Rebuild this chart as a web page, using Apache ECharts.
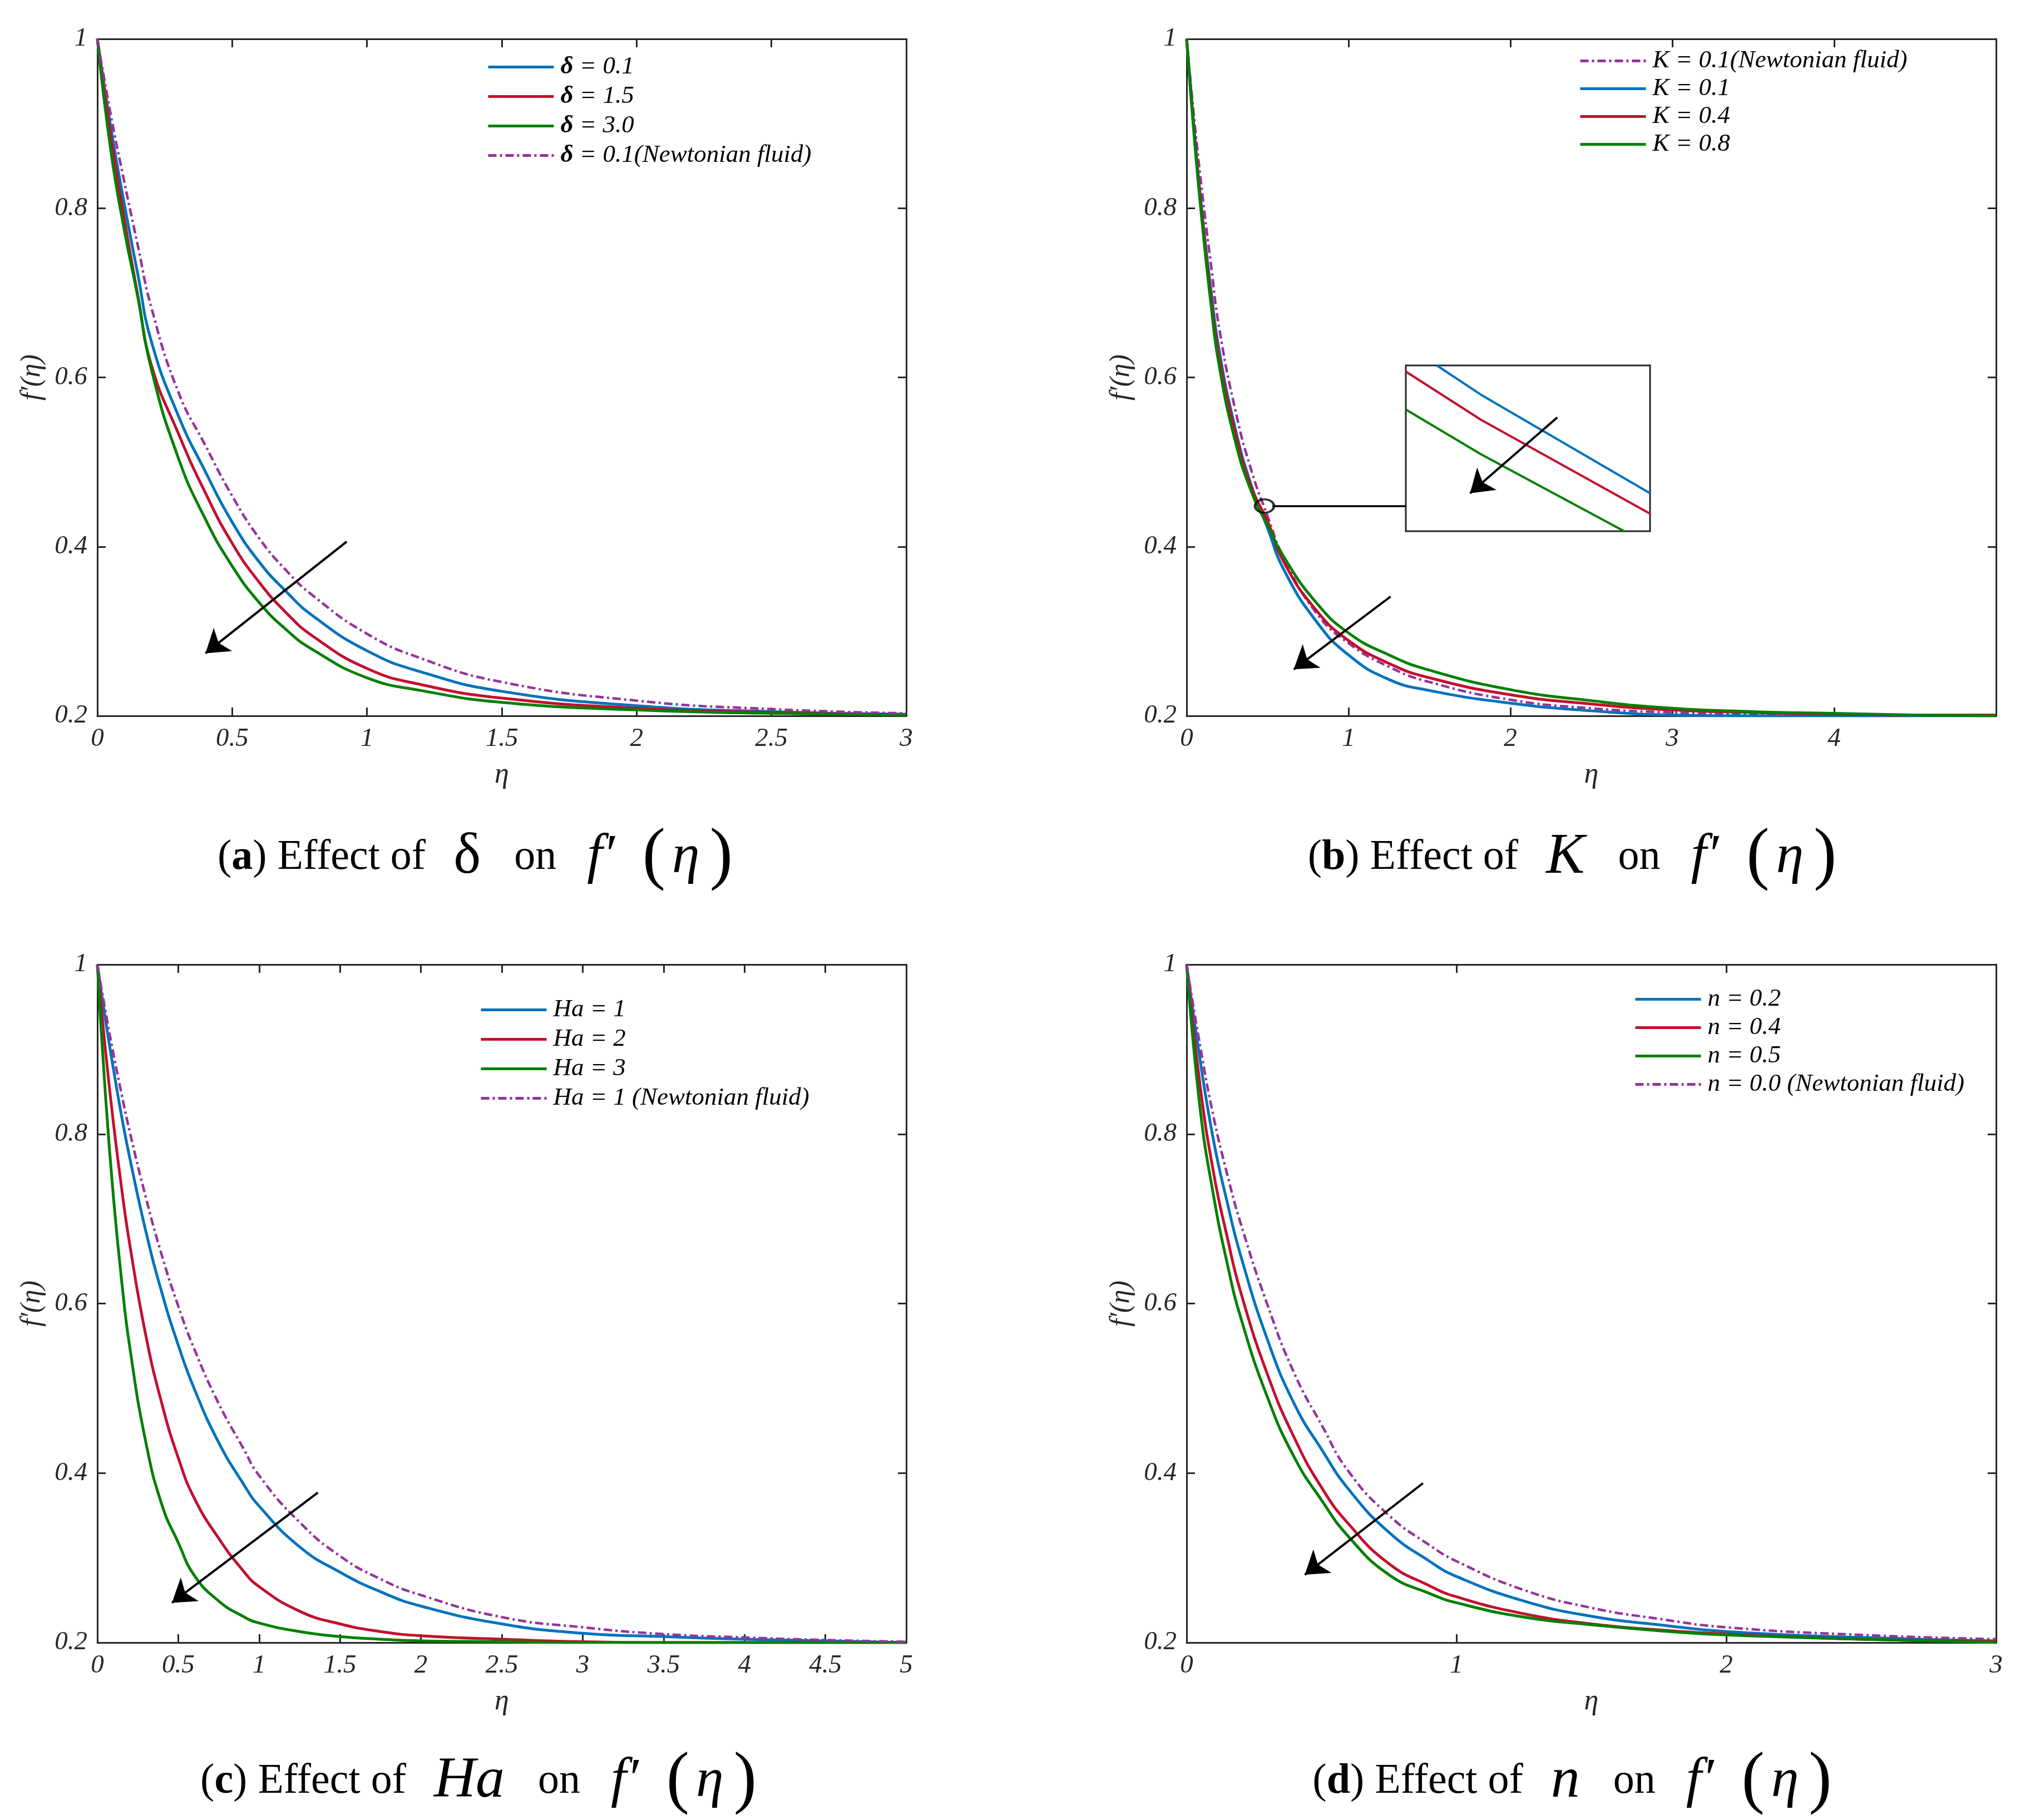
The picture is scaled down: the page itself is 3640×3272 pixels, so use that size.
<!DOCTYPE html>
<html>
<head>
<meta charset="utf-8">
<title>Effect of parameters on f'(eta)</title>
<script src="https://cdn.jsdelivr.net/npm/echarts@6/dist/echarts.min.js"></script>
<style>
  html, body { margin: 0; padding: 0; background: #fff; }
  #main { width: 3640px; height: 3272px; }
</style>
</head>
<body>
<div id="main"></div>
<script>
// ---- data ----
// (a) effect of delta
var etaA = [0, 0.05, 0.1, 0.15, 0.2, 0.3, 0.4, 0.5, 0.6, 0.7, 0.8, 1.0, 1.2, 1.5, 2.0, 2.5, 3.0];
var deltaBlue  = [1, 0.895, 0.805, 0.722, 0.643, 0.555, 0.489, 0.429, 0.382, 0.347, 0.318, 0.277, 0.252, 0.229, 0.212, 0.205, 0.202];
var deltaRed   = [1, 0.884, 0.787, 0.697, 0.615, 0.534, 0.464, 0.404, 0.358, 0.322, 0.294, 0.256, 0.237, 0.221, 0.209, 0.204, 0.201];
var deltaGreen = [1, 0.868, 0.774, 0.695, 0.610, 0.505, 0.433, 0.377, 0.334, 0.302, 0.278, 0.245, 0.230, 0.216, 0.207, 0.203, 0.201];
var deltaNewt  = [1, 0.910, 0.831, 0.756, 0.683, 0.583, 0.520, 0.460, 0.410, 0.372, 0.342, 0.297, 0.268, 0.240, 0.218, 0.208, 0.203];

// (b) effect of K
var etaB = [0, 0.05, 0.1, 0.15, 0.2, 0.3, 0.4, 0.5, 0.6, 0.8, 1.0, 1.25, 1.5, 2, 2.5, 3, 3.5, 4, 4.5, 5];
var kNewt  = [1, 0.900, 0.812, 0.734, 0.660, 0.562, 0.490, 0.436, 0.387, 0.322, 0.286, 0.258, 0.240, 0.219, 0.209, 0.204, 0.202, 0.201, 0.200, 0.200];
var kBlue  = [1, 0.885, 0.786, 0.704, 0.633, 0.540, 0.472, 0.422, 0.373, 0.312, 0.272, 0.243, 0.230, 0.215, 0.206, 0.201, 0.200, 0.200, 0.200, 0.200];
var kRed   = [1, 0.882, 0.783, 0.696, 0.625, 0.535, 0.470, 0.430, 0.382, 0.325, 0.289, 0.262, 0.245, 0.225, 0.214, 0.207, 0.204, 0.202, 0.201, 0.201];
var kGreen = [1, 0.877, 0.775, 0.687, 0.615, 0.525, 0.465, 0.425, 0.388, 0.334, 0.298, 0.272, 0.254, 0.231, 0.218, 0.209, 0.205, 0.203, 0.201, 0.200];

// (c) effect of Ha
var etaC = [0, 0.05, 0.1, 0.15, 0.2, 0.3, 0.4, 0.5, 0.6, 0.75, 0.9, 1, 1.25, 1.5, 1.75, 2, 2.5, 3, 3.5, 4, 4.5, 5];
var haBlue  = [1, 0.935, 0.876, 0.821, 0.772, 0.685, 0.612, 0.551, 0.499, 0.436, 0.388, 0.361, 0.313, 0.283, 0.260, 0.243, 0.222, 0.211, 0.207, 0.204, 0.202, 0.200];
var haRed   = [1, 0.899, 0.812, 0.736, 0.670, 0.562, 0.481, 0.418, 0.370, 0.323, 0.285, 0.266, 0.237, 0.222, 0.213, 0.208, 0.204, 0.201, 0.200, 0.200, 0.200, 0.200];
var haGreen = [1, 0.846, 0.724, 0.627, 0.549, 0.436, 0.362, 0.318, 0.279, 0.249, 0.231, 0.223, 0.213, 0.207, 0.204, 0.202, 0.201, 0.200, 0.200, 0.200, 0.200, 0.200];
var haNewt  = [1, 0.945, 0.894, 0.847, 0.803, 0.725, 0.656, 0.597, 0.546, 0.482, 0.430, 0.397, 0.342, 0.302, 0.275, 0.256, 0.230, 0.218, 0.210, 0.206, 0.203, 0.201];

// (d) effect of n
var etaD = [0, 0.05, 0.1, 0.15, 0.2, 0.3, 0.4, 0.5, 0.6, 0.75, 0.9, 1, 1.25, 1.5, 1.75, 2, 2.5, 3];
var nBlue  = [1, 0.887, 0.792, 0.720, 0.657, 0.557, 0.481, 0.428, 0.381, 0.330, 0.296, 0.278, 0.249, 0.231, 0.221, 0.213, 0.206, 0.202];
var nRed   = [1, 0.857, 0.754, 0.679, 0.614, 0.516, 0.441, 0.383, 0.340, 0.293, 0.267, 0.254, 0.234, 0.222, 0.215, 0.210, 0.204, 0.201];
var nGreen = [1, 0.830, 0.727, 0.648, 0.584, 0.489, 0.418, 0.368, 0.325, 0.280, 0.258, 0.247, 0.230, 0.221, 0.214, 0.209, 0.204, 0.200];
var nNewt  = [1, 0.904, 0.820, 0.753, 0.695, 0.598, 0.517, 0.457, 0.402, 0.350, 0.315, 0.296, 0.262, 0.241, 0.228, 0.218, 0.209, 0.204];

// zoomed inset of (b), inset units 0..1
var insetBlue  = [[0.127, 1.0], [0.307, 0.824], [1.0, 0.229]];
var insetRed   = [[0, 0.963], [0.307, 0.673], [1.0, 0.106]];
var insetGreen = [[0, 0.734], [0.307, 0.465], [0.894, 0]];

// annotations (data units of each panel)
var arrowA = [[0.925, 0.406], [0.401, 0.274]];
var arrowB = [[1.26, 0.341], [0.662, 0.255]];
var arrowC = [[1.363, 0.377], [0.461, 0.247]];
var arrowD = [[0.876, 0.388], [0.438, 0.280]];
var arrowInset = [[0.620, 0.686], [0.263, 0.229]];
var circleB = [0.481, 0.448];
var connectorB = [[0.53, 0.448], [1.354, 0.448]];

var yTicks = [0.2, 0.4, 0.6, 0.8, 1];

// ---- styling ----
var FONT = '"Liberation Serif", "Times New Roman", serif';
var AX = '#262626';
var BLUE = '#0072BD', RED = '#C2102F', GREEN = '#008000', PURPLE = '#953399';
var LW = 5;

function pairs(xs, ys) {
  return xs.map(function (x, i) { return [x, ys[i]]; });
}

function curve(name, gi, xs, ys, color, dashed) {
  return {
    name: name, type: 'line', xAxisIndex: gi * 2, yAxisIndex: gi * 2,
    data: pairs(xs, ys), smooth: 0.5,
    showSymbol: false, symbol: 'none', silent: true,
    lineStyle: { color: color, width: dashed ? LW - 0.5 : LW, type: dashed ? [15, 6, 4, 6] : 'solid' },
    itemStyle: { color: color }
  };
}

function arrow(gi, pts, xi) {
  var idx = xi === undefined ? gi * 2 : xi;
  return {
    type: 'lines', coordinateSystem: 'cartesian2d', xAxisIndex: idx, yAxisIndex: idx,
    symbol: ['none', 'arrow'], symbolSize: 40, silent: true, z: 5,
    lineStyle: { color: '#000', width: 4, opacity: 1, curveness: 0 },
    data: [{ coords: pts }]
  };
}

function fmt(v) { return String(+v.toFixed(2)); }

var tickLabel = { fontFamily: FONT, fontStyle: 'italic', fontSize: 47, color: AX };

function xAxes(gi, max, step, hideMax) {
  var common = {
    gridIndex: gi, type: 'value', min: 0, max: max, interval: step,
    splitLine: { show: false },
    axisLine: { show: true, onZero: false, lineStyle: { color: AX, width: 3 } },
    axisTick: { show: true, inside: true, length: 15, lineStyle: { color: AX, width: 3 } }
  };
  var bottom = Object.assign({}, common, {
    position: 'bottom', name: 'η', nameLocation: 'middle', nameGap: 80,
    nameTextStyle: { fontFamily: FONT, fontStyle: 'italic', fontSize: 52, color: AX },
    axisLabel: Object.assign({ margin: 18, formatter: function (v) {
      return (hideMax && v === max) ? '' : fmt(v);
    } }, tickLabel)
  });
  var top = Object.assign({}, common, { position: 'top', axisLabel: { show: false } });
  return [bottom, top];
}

function yAxes(gi) {
  var common = {
    gridIndex: gi, type: 'value', min: yTicks[0], max: yTicks[yTicks.length - 1], interval: 0.2,
    splitLine: { show: false },
    axisLine: { show: true, onZero: false, lineStyle: { color: AX, width: 3 } },
    axisTick: { show: true, inside: true, length: 15, lineStyle: { color: AX, width: 3 } }
  };
  var left = Object.assign({}, common, {
    position: 'left', name: 'f′(η)', nameLocation: 'middle', nameGap: 92,
    nameTextStyle: { fontFamily: FONT, fontStyle: 'italic', fontSize: 50, color: AX },
    axisLabel: Object.assign({ margin: 18, formatter: fmt }, tickLabel)
  });
  var right = Object.assign({}, common, { position: 'right', axisLabel: { show: false } });
  return [left, right];
}

function legend(names, left, top, gap, rich) {
  return {
    data: names, orient: 'vertical', left: left, top: top,
    itemWidth: 118, itemHeight: 20, itemGap: gap, selectedMode: false,
    itemStyle: { color: 'rgba(0,0,0,0)', borderColor: 'rgba(0,0,0,0)', borderWidth: 0, opacity: 0 },
    lineStyle: { width: LW },
    formatter: rich ? function (n) { return n.replace('δ', '{d|δ}'); } : undefined,
    textStyle: {
      fontFamily: FONT, fontStyle: 'italic', fontSize: 45, color: '#000', padding: [0, 0, 0, 7],
      rich: rich ? { d: { fontFamily: FONT, fontStyle: 'italic', fontWeight: 'bold', fontSize: 45, color: '#000' } } : undefined
    }
  };
}

var grids = [
  { left: 175, top: 70, width: 1454, height: 1217 },
  { left: 2133, top: 70, width: 1455, height: 1217 },
  { left: 175, top: 1734, width: 1454, height: 1219 },
  { left: 2133, top: 1734, width: 1455, height: 1219 },
  { left: 2527, top: 657, width: 439, height: 298, show: true, borderColor: AX, borderWidth: 3, backgroundColor: '#fff' }
];

var xAxisList = [].concat(
  xAxes(0, 3, 0.5), xAxes(1, 5, 1, true), xAxes(2, 5, 0.5), xAxes(3, 3, 1),
  [{ gridIndex: 4, type: 'value', min: 0, max: 1, show: false }]
);
var yAxisList = [].concat(
  yAxes(0), yAxes(1), yAxes(2), yAxes(3),
  [{ gridIndex: 4, type: 'value', min: 0, max: 1, show: false }]
);

var names = {
  a: ['δ = 0.1', 'δ = 1.5', 'δ = 3.0', 'δ = 0.1(Newtonian fluid)'],
  b: ['K = 0.1(Newtonian fluid)', 'K = 0.1', 'K = 0.4', 'K = 0.8'],
  c: ['Ha = 1', 'Ha = 2', 'Ha = 3', 'Ha = 1 (Newtonian fluid)'],
  d: ['n = 0.2', 'n = 0.4', 'n = 0.5', 'n = 0.0 (Newtonian fluid)']
};

function insetLine(name, data, color) {
  return {
    name: name, type: 'line', xAxisIndex: 8, yAxisIndex: 8, data: data,
    showSymbol: false, symbol: 'none', silent: true, lineStyle: { color: color, width: 4 }
  };
}

var series = [
  curve(names.a[0], 0, etaA, deltaBlue, BLUE),
  curve(names.a[1], 0, etaA, deltaRed, RED),
  curve(names.a[2], 0, etaA, deltaGreen, GREEN),
  curve(names.a[3], 0, etaA, deltaNewt, PURPLE, true),
  arrow(0, arrowA),

  curve(names.b[0], 1, etaB, kNewt, PURPLE, true),
  curve(names.b[1], 1, etaB, kBlue, BLUE),
  curve(names.b[2], 1, etaB, kRed, RED),
  curve(names.b[3], 1, etaB, kGreen, GREEN),
  arrow(1, arrowB),
  {
    type: 'lines', coordinateSystem: 'cartesian2d', xAxisIndex: 2, yAxisIndex: 2,
    symbol: 'none', silent: true, z: 5,
    lineStyle: { color: '#000', width: 3.5, opacity: 1 },
    data: [{ coords: connectorB }]
  },
  {
    type: 'scatter', xAxisIndex: 2, yAxisIndex: 2, data: [circleB], silent: true, z: 6,
    symbol: 'circle', symbolSize: [34, 24],
    itemStyle: { color: 'rgba(0,0,0,0)', borderColor: '#000', borderWidth: 4 }
  },
  insetLine('inset blue', insetBlue, BLUE),
  insetLine('inset red', insetRed, RED),
  insetLine('inset green', insetGreen, GREEN),
  arrow(4, arrowInset, 8),

  curve(names.c[0], 2, etaC, haBlue, BLUE),
  curve(names.c[1], 2, etaC, haRed, RED),
  curve(names.c[2], 2, etaC, haGreen, GREEN),
  curve(names.c[3], 2, etaC, haNewt, PURPLE, true),
  arrow(2, arrowC),

  curve(names.d[0], 3, etaD, nBlue, BLUE),
  curve(names.d[1], 3, etaD, nRed, RED),
  curve(names.d[2], 3, etaD, nGreen, GREEN),
  curve(names.d[3], 3, etaD, nNewt, PURPLE, true),
  arrow(3, arrowD)
];

// captions under each panel
var capRich = {
  b: { fontFamily: FONT, fontWeight: 'bold', fontSize: 76, color: '#000' },
  g: { fontFamily: FONT, fontSize: 104, color: '#000', padding: [0, 60, 0, 50] },
  v: { fontFamily: FONT, fontStyle: 'italic', fontSize: 104, color: '#000', padding: [0, 60, 0, 50] },
  f: { fontFamily: FONT, fontStyle: 'italic', fontSize: 100, color: '#000', padding: [0, 0, 0, 55] },
  q: { fontFamily: FONT, fontSize: 124, color: '#000', padding: [0, 12, 0, 50] },
  e: { fontFamily: FONT, fontStyle: 'italic', fontSize: 100, color: '#000' },
  r: { fontFamily: FONT, fontSize: 124, color: '#000', padding: [0, 0, 0, 18] }
};
function caption(letter, param, style, x, y) {
  return {
    type: 'text', x: x, y: y, silent: true,
    style: {
      text: '({b|' + letter + '}) Effect of{' + style + '|' + param + '}on{f|f′}{q|(}{e|η}{r|)}',
      font: '76px ' + FONT, fill: '#000',
      align: 'center', verticalAlign: 'middle', textAlign: 'center', textVerticalAlign: 'middle',
      rich: capRich
    }
  };
}

var myChart = echarts.init(document.getElementById('main'));
myChart.setOption({
  animation: false,
  backgroundColor: '#fff',
  grid: grids,
  xAxis: xAxisList,
  yAxis: yAxisList,
  legend: [
    legend(names.a, 870, 93, 8, true),
    legend(names.b, 2833, 82, 5),
    legend(names.c, 857, 1788, 8),
    legend(names.d, 2932, 1769, 6)
  ],
  series: series,
  graphic: [
    caption('a', 'δ', 'g', 854, 1542),
    caption('b', 'K', 'v', 2826, 1542),
    caption('c', 'Ha', 'v', 860, 3203),
    caption('d', 'n', 'v', 2826, 3203)
  ]
});
</script>
</body>
</html>
